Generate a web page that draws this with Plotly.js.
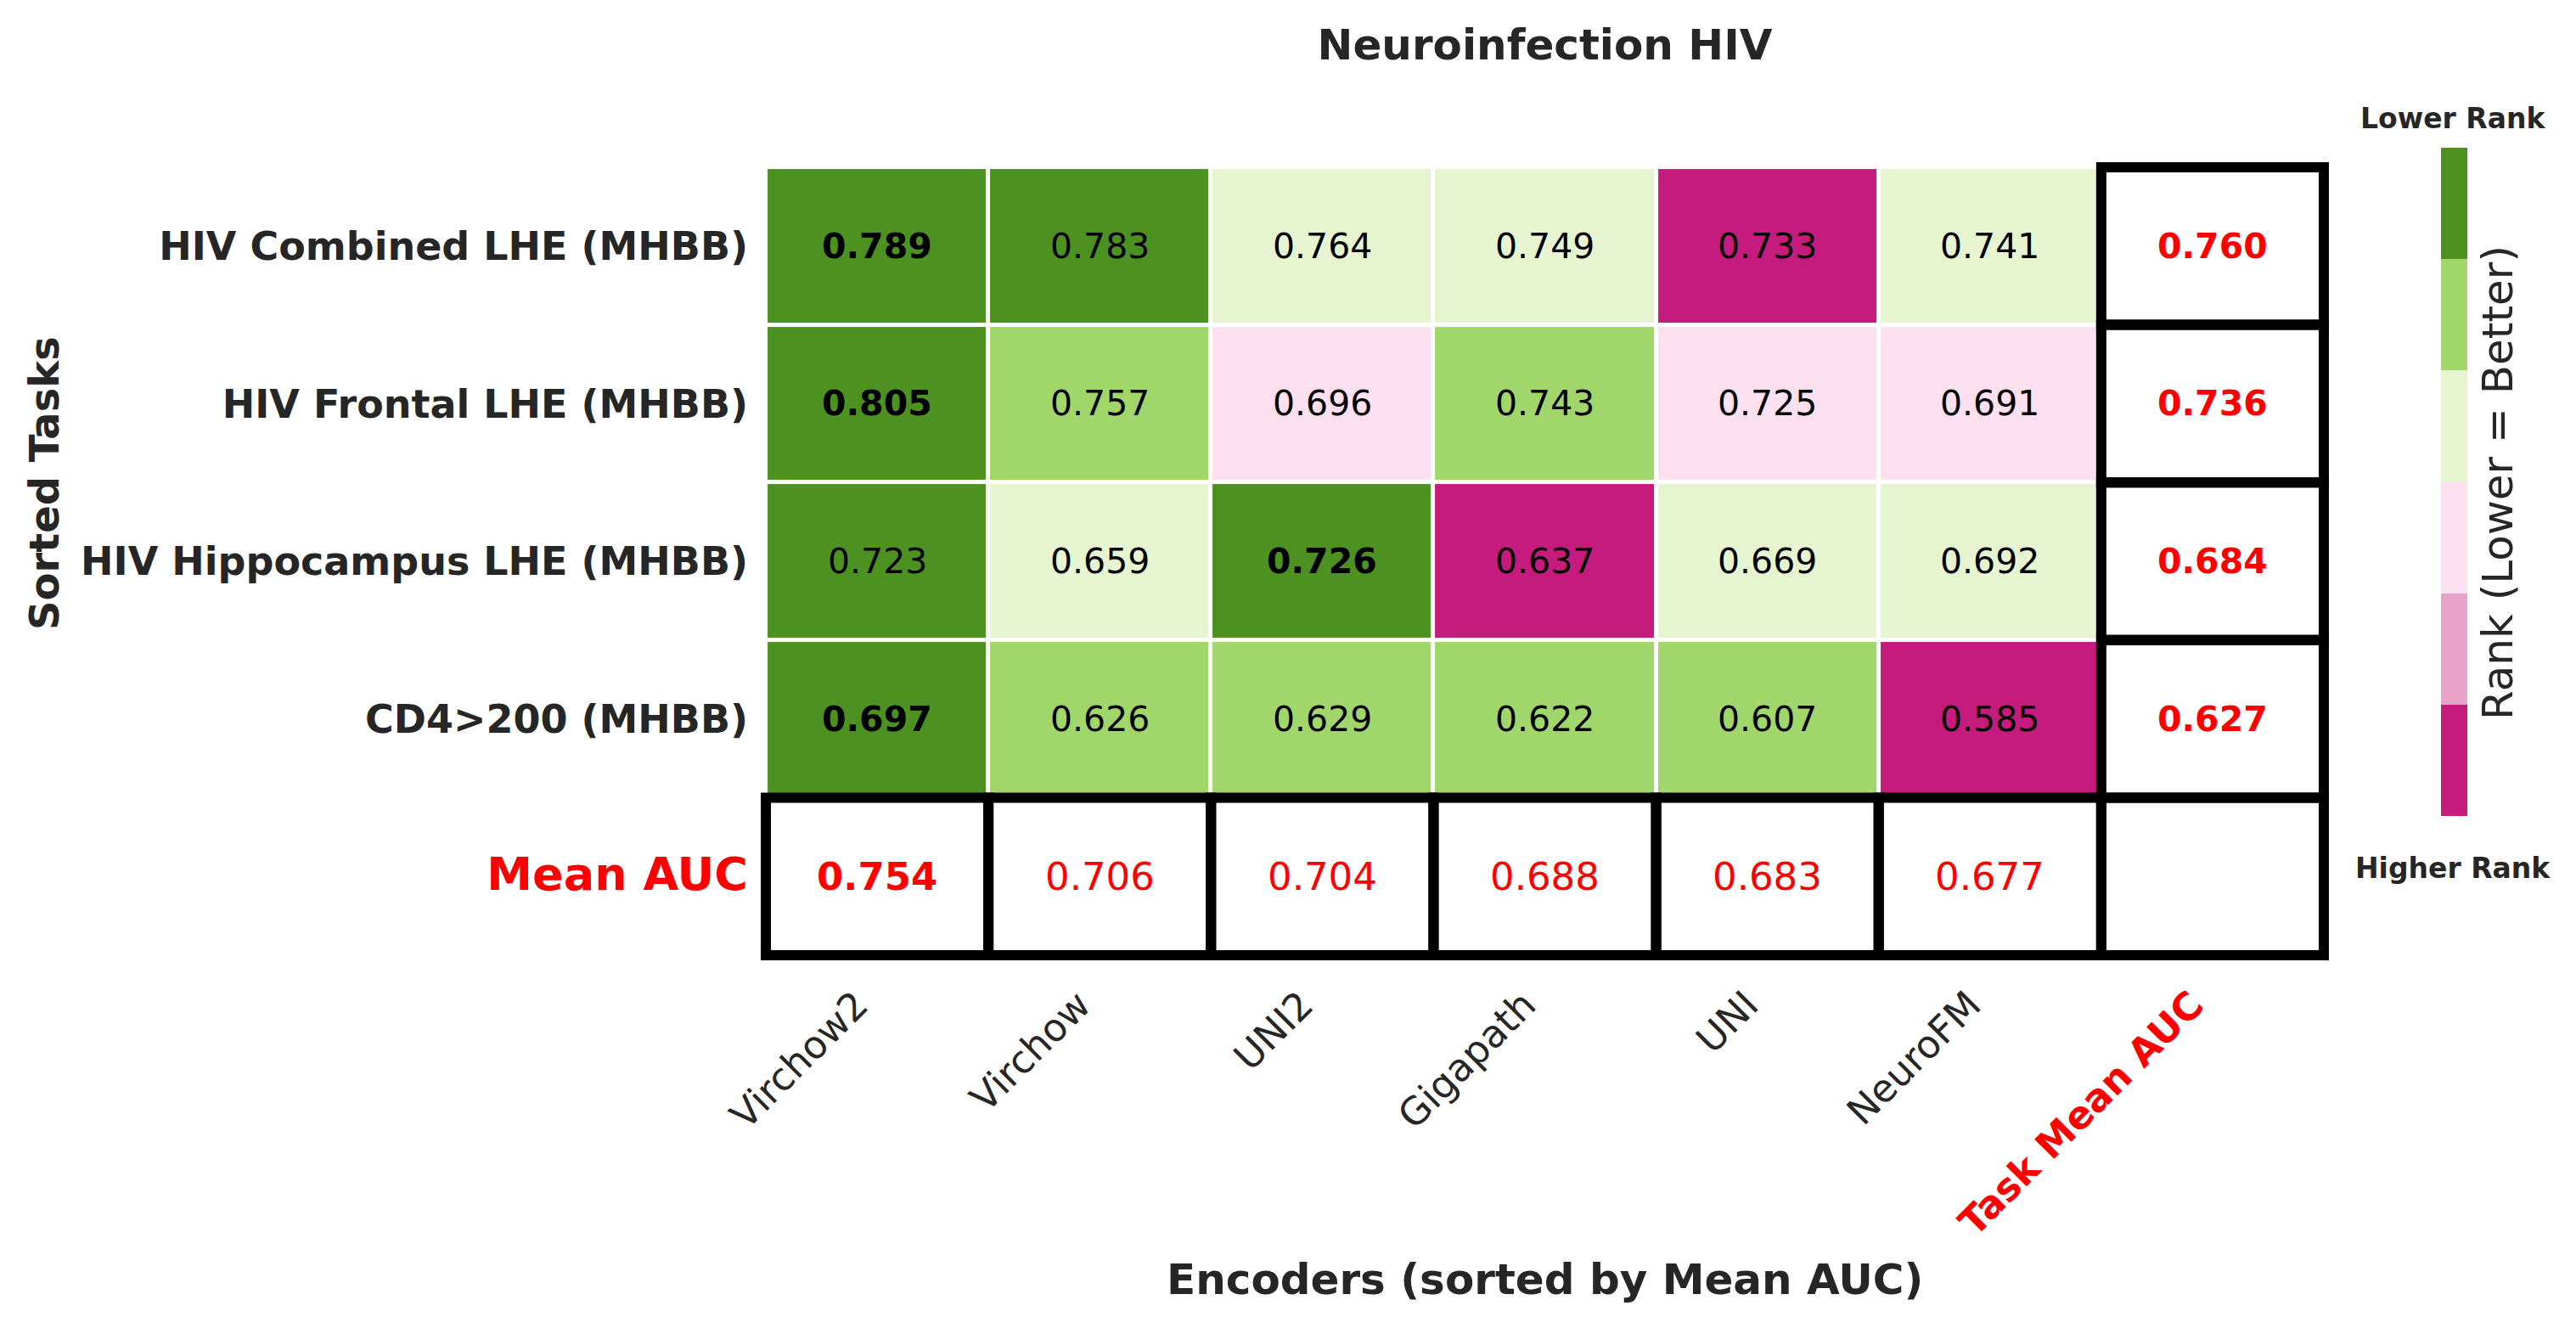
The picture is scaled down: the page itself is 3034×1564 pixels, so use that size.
<!DOCTYPE html>
<html>
<head>
<meta charset="utf-8">
<script src="https://cdn.plot.ly/plotly-3.0.1.min.js"></script>
<style>html,body{margin:0;padding:0;background:#fff;}#chart{width:3034px;height:1564px;}</style>
</head>
<body>
<div id="chart"></div>
<script>
// ---- data ----
const encoders = ["Virchow2", "Virchow", "UNI2", "Gigapath", "UNI", "NeuroFM"];
const tasks = ["HIV Combined LHE (MHBB)", "HIV Frontal LHE (MHBB)", "HIV Hippocampus LHE (MHBB)", "CD4>200 (MHBB)"];
const meanRowLabel = "Mean AUC";
const meanColLabel = "Task Mean AUC";

const aucCombined    = [0.789, 0.783, 0.764, 0.749, 0.733, 0.741];
const aucFrontal     = [0.805, 0.757, 0.696, 0.743, 0.725, 0.691];
const aucHippocampus = [0.723, 0.659, 0.726, 0.637, 0.669, 0.692];
const aucCD4         = [0.697, 0.626, 0.629, 0.622, 0.607, 0.585];

// rank level (1 = best / dark green ... 6 = worst / magenta)
const rankCombined    = [1, 1, 3, 3, 6, 3];
const rankFrontal     = [1, 2, 4, 2, 4, 4];
const rankHippocampus = [1, 3, 1, 6, 3, 3];
const rankCD4         = [1, 2, 2, 2, 2, 6];

const taskMeanAUC    = [0.760, 0.736, 0.684, 0.627];
const encoderMeanAUC = [0.754, 0.706, 0.704, 0.688, 0.683, 0.677];

const rankColors = ["#4d9221", "#a1d76a", "#e6f5d0", "#fde0ef", "#e9a3c9", "#c51b7d"]; // rank 1..6

// ---- build ----
const aucRows = [aucCombined, aucFrontal, aucHippocampus, aucCD4];
const rankRows = [rankCombined, rankFrontal, rankHippocampus, rankCD4];
const FONT = "DejaVu Sans";
const TXT = "#262626";

const W = 3034, H = 1564;
const M = {l: 896, r: 291, t: 191, b: 433};
const PW = W - M.l - M.r, PH = H - M.t - M.b;
const px2x = px => (px - M.l) / PW;          // pixel -> paper x
const py2y = py => (H - M.b - py) / PH;      // pixel -> paper y
const padX = 0.023, padY = 0.0324;          // small range padding so the thick outer box lines are not clipped

// colourbar: lower rank on top -> plot negative rank so rank 1 sits at the top
const nR = rankColors.length;
const colorscale = [];
for (let k = 0; k < nR; k++) {
  const c = rankColors[nR - 1 - k];
  colorscale.push([k / nR, c]);
  colorscale.push([(k + 1) / nR, c]);
}
const zNeg = rankRows.map(r => r.map(v => -v));

const xCats = encoders.concat([meanColLabel]);
const yCats = tasks.concat([meanRowLabel]);

const heat = {
  type: "heatmap",
  x: encoders,
  y: tasks,
  z: zNeg,
  zmin: -nR - 0.5,
  zmax: -0.5,
  colorscale: colorscale,
  xgap: 5,
  ygap: 5,
  hoverinfo: "skip",
  showscale: true,
  colorbar: {
    x: px2x(2875), xanchor: "left", xref: "paper",
    y: py2y(567.5), yanchor: "middle", yref: "paper",
    len: 787 / PH, lenmode: "fraction",
    thickness: 31, thicknessmode: "pixels",
    xpad: 0, ypad: 0,
    outlinewidth: 0,
    showticklabels: false,
    ticks: ""
  }
};

const annotations = [];
// task cell values
aucRows.forEach((row, i) => {
  const mx = Math.max(...row);
  row.forEach((v, j) => {
    annotations.push({
      x: encoders[j], y: tasks[i], xref: "x", yref: "y",
      text: v.toFixed(3), showarrow: false,
      font: {family: FONT, size: 41, color: "#000000", weight: v === mx ? "bold" : "normal"}
    });
  });
  annotations.push({
    x: meanColLabel, y: tasks[i], xref: "x", yref: "y",
    text: taskMeanAUC[i].toFixed(3), showarrow: false,
    font: {family: FONT, size: 41, color: "#ff0000", weight: "bold"}
  });
});
const mxMean = Math.max(...encoderMeanAUC);
encoderMeanAUC.forEach((v, j) => {
  annotations.push({
    x: encoders[j], y: meanRowLabel, xref: "x", yref: "y",
    text: v.toFixed(3), showarrow: false,
    font: {family: FONT, size: 45, color: "#ff0000", weight: v === mxMean ? "bold" : "normal"}
  });
});

// axis titles & colourbar labels
annotations.push({
  xref: "paper", yref: "paper", x: px2x(1819), y: py2y(1507), xanchor: "center", yanchor: "middle",
  text: "Encoders (sorted by Mean AUC)", showarrow: false,
  font: {family: FONT, size: 50, color: TXT, weight: "bold"}
});
annotations.push({
  xref: "paper", yref: "paper", x: px2x(52), y: py2y(569), xanchor: "center", yanchor: "middle",
  text: "Sorted Tasks", textangle: -90, showarrow: false,
  font: {family: FONT, size: 48, color: TXT, weight: "bold"}
});
annotations.push({
  xref: "paper", yref: "paper", x: px2x(2942), y: py2y(569), xanchor: "center", yanchor: "middle",
  text: "Rank (Lower = Better)", textangle: -90, showarrow: false,
  font: {family: FONT, size: 50, color: TXT}
});
annotations.push({
  xref: "paper", yref: "paper", x: px2x(2889), y: py2y(139), xanchor: "center", yanchor: "middle",
  text: "Lower Rank", showarrow: false,
  font: {family: FONT, size: 33, color: TXT, weight: "bold"}
});
annotations.push({
  xref: "paper", yref: "paper", x: px2x(2889), y: py2y(1022), xanchor: "center", yanchor: "middle",
  text: "Higher Rank", showarrow: false,
  font: {family: FONT, size: 33, color: TXT, weight: "bold"}
});

// thick black boxes around the summary row & column
const shapes = [];
const boxLine = {color: "#000000", width: 12};
const lastRow = yCats.length - 1, lastCol = xCats.length - 1;
for (let j = 0; j < xCats.length; j++) {
  shapes.push({type: "rect", xref: "x", yref: "y", x0: j - 0.5, x1: j + 0.5, y0: lastRow - 0.5, y1: lastRow + 0.5, line: boxLine, layer: "above"});
}
for (let i = 0; i < lastRow; i++) {
  shapes.push({type: "rect", xref: "x", yref: "y", x0: lastCol - 0.5, x1: lastCol + 0.5, y0: i - 0.5, y1: i + 0.5, line: boxLine, layer: "above"});
}

const xTickText = encoders.concat(['<b><span style="color:#ff0000">' + meanColLabel + '</span></b>']);
const yTickText = tasks.map(t => t.replace(">", "&gt;")).concat(['<span style="color:#ff0000;font-size:54px">' + meanRowLabel + '</span>']);

const layout = {
  width: W, height: H,
  margin: {l: M.l, r: M.r, t: M.t, b: M.b, pad: 0},
  paper_bgcolor: "#ffffff", plot_bgcolor: "#ffffff",
  title: {
    text: "Neuroinfection HIV", x: 0.5, xref: "paper", xanchor: "center",
    y: 1 - 52 / H, yref: "container", yanchor: "middle",
    font: {family: FONT, size: 50, color: TXT, weight: "bold"}
  },
  xaxis: {
    type: "category", categoryorder: "array", categoryarray: xCats,
    range: [-0.5 - padX, xCats.length - 0.5 + padX],
    tickmode: "array", tickvals: xCats, ticktext: xTickText,
    tickangle: -45, ticks: "", ticklabelstandoff: 16, ticklabelshift: -24,
    tickfont: {family: FONT, size: 45, color: TXT},
    showgrid: false, zeroline: false, showline: false, fixedrange: true
  },
  yaxis: {
    type: "category", categoryorder: "array", categoryarray: yCats,
    range: [yCats.length - 0.5 + padY, -0.5 - padY],
    tickmode: "array", tickvals: yCats, ticktext: yTickText,
    ticks: "", ticklabelstandoff: 14,
    tickfont: {family: FONT, size: 46, color: TXT, weight: "bold"},
    showgrid: false, zeroline: false, showline: false, fixedrange: true
  },
  annotations: annotations,
  shapes: shapes,
  showlegend: false
};

Plotly.newPlot("chart", [heat], layout, {displayModeBar: false, staticPlot: true});
</script>
</body>
</html>
